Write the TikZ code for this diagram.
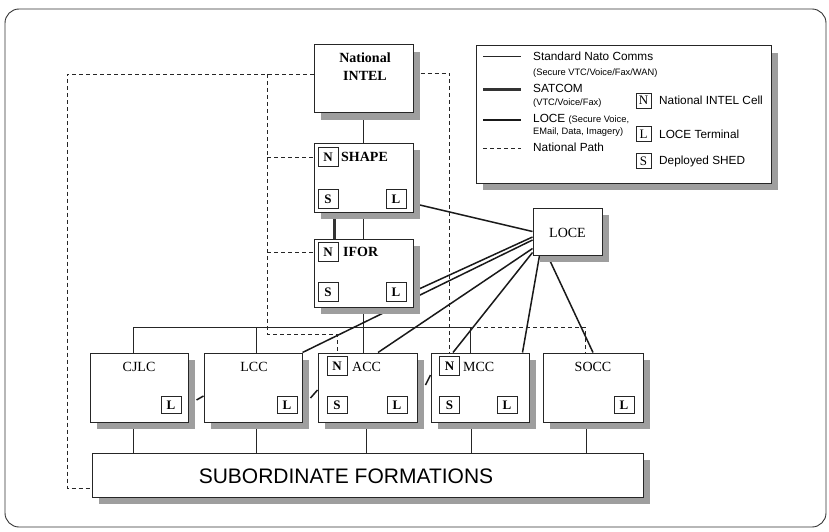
\documentclass[tikz,border=0pt]{standalone}
\usepackage{fontspec}
\setmainfont{Liberation Serif}
\newfontfamily\lsans{Liberation Sans}
\usetikzlibrary{shadows,calc}
\pgfdeclarelayer{bg}
\pgfsetlayers{bg,main}
\begin{document}
\begin{tikzpicture}[x=1pt,y=-1pt,
  box/.style={draw=black!85, line width=1pt, fill=white, inner sep=0pt,
    drop shadow={shadow xshift=7pt, shadow yshift=-7pt, fill=black!38, opacity=1}},
  tag/.style={draw=black!85, line width=0.9pt, fill=white, inner sep=0pt,
    minimum width=20pt, minimum height=19pt, font=\fontsize{13}{13}\selectfont\bfseries},
  ltag/.style={tag, minimum height=17pt},
  keytag/.style={draw=black!85, line width=0.8pt, fill=white, inner sep=0pt,
    minimum width=15pt, minimum height=15pt, font=\fontsize{13}{13}\selectfont},
  ttl/.style={inner sep=0pt, font=\fontsize{14}{18}\selectfont\bfseries},
  rtl/.style={inner sep=0pt, font=\fontsize{14}{18}\selectfont},
  lgtxt/.style={inner sep=0pt, anchor=west, font=\lsans\fontsize{11.8}{13}\selectfont},
  lgsmall/.style={inner sep=0pt, anchor=west, font=\lsans\fontsize{9.3}{10}\selectfont},
  std/.style={line width=0.7pt, draw=black!85},
  locel/.style={line width=1.5pt, draw=black!90},
  satcom/.style={line width=3pt, draw=black!80},
  natpath/.style={line width=0.9pt, draw=black!85, dash pattern=on 4pt off 3pt},
]
\useasboundingbox (0,0) rectangle (829,532);
\draw[rounded corners=14pt, line width=0.9pt, black!80] (5,9) rectangle (826,527);

% main boxes
\node[box, minimum width=99pt, minimum height=68pt] (intel) at (363.5,79) {};
\node[box, minimum width=99pt, minimum height=69pt] (shape) at (363.5,177.5) {};
\node[box, minimum width=99pt, minimum height=68pt] (ifor) at (363.5,273) {};
\node[box, minimum width=69pt, minimum height=47pt] (loce) at (567.5,231.5) {};
\node[box, minimum width=98pt, minimum height=69pt] (cjlc) at (139,387.5) {};
\node[box, minimum width=98pt, minimum height=69pt] (lcc) at (253,387.5) {};
\node[box, minimum width=99pt, minimum height=69pt] (acc) at (367.5,387.5) {};
\node[box, minimum width=98pt, minimum height=69pt] (mcc) at (480,387.5) {};
\node[box, minimum width=100pt, minimum height=69pt] (socc) at (593,387.5) {};
\node[box, minimum width=551pt, minimum height=44pt] (sub) at (367.5,475) {};
\node[box, minimum width=295pt, minimum height=137pt] (legend) at (623.5,114.5) {};

% titles
\node[ttl, align=center] (intelT) at (365,67) {National\\INTEL};
\node[ttl, anchor=west] (shapeT) at (341,157) {SHAPE};
\node[ttl, anchor=west] (iforT) at (343,252) {IFOR};
\node[rtl] (loceT) at (567.5,233) {LOCE};
\node[rtl] (cjlcT) at (139,367) {CJLC};
\node[rtl] (lccT) at (254,367) {LCC};
\node[rtl, anchor=west] (accT) at (352,367) {ACC};
\node[rtl, anchor=west] (mccT) at (463,367) {MCC};
\node[rtl] (soccT) at (593,367) {SOCC};
\node[inner sep=0pt, font=\lsans\fontsize{21}{24}\selectfont] (subT) at (346,476) {SUBORDINATE FORMATIONS};

% tags
\node[tag] (shapeN) at (328,157) {N};
\node[tag] (shapeS) at (328,199) {S};
\node[tag] (shapeL) at (396,199) {L};
\node[tag] (iforN) at (328,252) {N};
\node[tag] (iforS) at (328,292) {S};
\node[tag] (iforL) at (396,292) {L};
\node[ltag] (cjlcL) at (171,405) {L};
\node[ltag] (lccL) at (287,405) {L};
\node[tag] (accN) at (337,366) {N};
\node[ltag] (accS) at (337,405) {S};
\node[ltag] (accL) at (397,405) {L};
\node[tag] (mccN) at (449.5,366) {N};
\node[ltag] (mccS) at (449.5,405) {S};
\node[ltag] (mccL) at (507,405) {L};
\node[ltag] (soccL) at (624,405) {L};

% legend
\coordinate (k1a) at (483,56); \coordinate (k1b) at (521,56);
\coordinate (k2a) at (483,90); \coordinate (k2b) at (521,90);
\coordinate (k3a) at (483,120); \coordinate (k3b) at (521,120);
\coordinate (k4a) at (483,148); \coordinate (k4b) at (521,148);
\draw[std] (k1a) -- (k1b);
\draw[satcom] (k2a) -- (k2b);
\draw[locel] (k3a) -- (k3b);
\draw[natpath] (k4a) -- (k4b);
\node[lgtxt] (t1) at (533,56) {Standard Nato Comms};
\node[lgsmall] (t1b) at (533,73) {(Secure VTC/Voice/Fax/WAN)};
\node[lgtxt] (t2) at (533,88) {SATCOM};
\node[lgsmall] (t2b) at (533,103) {(VTC/Voice/Fax)};
\node[lgtxt] (t3) at (533,119) {LOCE {\fontsize{9.3}{10}\selectfont (Secure Voice,}};
\node[lgsmall] (t3b) at (533,132) {EMail, Data, Imagery)};
\node[lgtxt] (t4) at (533,147) {National Path};
\node[keytag] (kN) at (643.5,100.5) {N};
\node[keytag] (kL) at (643.5,134) {L};
\node[keytag] (kS) at (643.5,161) {S};
\node[lgtxt] (kNt) at (659,100.5) {National INTEL Cell};
\node[lgtxt] (kLt) at (659,134) {LOCE Terminal};
\node[lgtxt] (kSt) at (659,161) {Deployed SHED};

% connectors
\begin{pgfonlayer}{bg}
\coordinate (bus1) at (133,327);
\coordinate (bus2) at (256,327);
\coordinate (bus4) at (470,327);
\draw[std] (intel.south) -- (shape.north);
\draw[std] (shape.south) -- (ifor.north);
\draw[std] (ifor.south) -- (ifor.south |- acc.north);
\draw[std] (bus1) -- (bus4);
\draw[std] (bus1) -- (bus1 |- cjlc.north);
\draw[std] (bus2) -- (bus2 |- lcc.north);
\draw[std] (bus4) -- (bus4 |- mcc.north);
\draw[std] ([xshift=-6pt]cjlc.south) -- ([xshift=-6pt]cjlc.south |- sub.north);
\draw[std] ([xshift=3pt]lcc.south) -- ([xshift=3pt]lcc.south |- sub.north);
\draw[std] ([xshift=-1.5pt]acc.south) -- ([xshift=-1.5pt]acc.south |- sub.north);
\draw[std] ([xshift=-9pt]mcc.south) -- ([xshift=-9pt]mcc.south |- sub.north);
\draw[std] ([xshift=-7pt]socc.south) -- ([xshift=-7pt]socc.south |- sub.north);
% satcom
\draw[satcom] ([xshift=6pt]shapeS.south) -- ([xshift=6pt]shapeS.south |- iforN.north);
% loce
\draw[locel] ([yshift=9pt]shape.south east) -- (loce.west);
\draw[locel] ([yshift=16pt]ifor.south east) -- ([yshift=-5.5pt]loce.west);
\draw[locel] (lcc.north east) -- ([yshift=-8.5pt]loce.west);
\draw[locel] ([xshift=10.5pt]acc.north) -- ([yshift=7pt]loce.south west);
\draw[locel] ([xshift=-27pt]mcc.north) -- ([yshift=3pt]loce.south west);
\draw[locel] ([xshift=-7pt]mcc.north east) -- ([xshift=7pt]loce.south west);
\draw[locel] (socc.north) -- ([xshift=15pt]loce.south west);
\draw[locel] ([xshift=8pt,yshift=-12.5pt]cjlc.east) -- ([yshift=-8.5pt]lcc.west);
\draw[locel] ([xshift=8pt,yshift=-10.5pt]lcc.east) -- ([yshift=-2.5pt]acc.west);
\draw[locel] ([xshift=8pt,yshift=2.5pt]acc.east) -- ([yshift=12.5pt]mcc.west);
% national path
\coordinate (d1) at (67,74);
\coordinate (d2) at (67,488);
\coordinate (d3) at (267,74);
\coordinate (d4) at (267,334);
\coordinate (d5) at (449.5,73);
\coordinate (d6) at (585,327);
\draw[natpath] (intel.west |- d1) -- (d1) -- (d2) -- (d2 -| sub.west);
\draw[natpath] (d3) -- (d4) -| (accN.north);
\draw[natpath] (d3 |- shapeN.west) -- (shapeN.west);
\draw[natpath] (d3 |- iforN.west) -- (iforN.west);
\draw[natpath] (intel.east |- d5) -- (d5) -- (d5 |- mccN.north);
\draw[natpath] (bus4) -- (d6) -- (d6 |- socc.north);
\end{pgfonlayer}
\end{tikzpicture}
\end{document}
